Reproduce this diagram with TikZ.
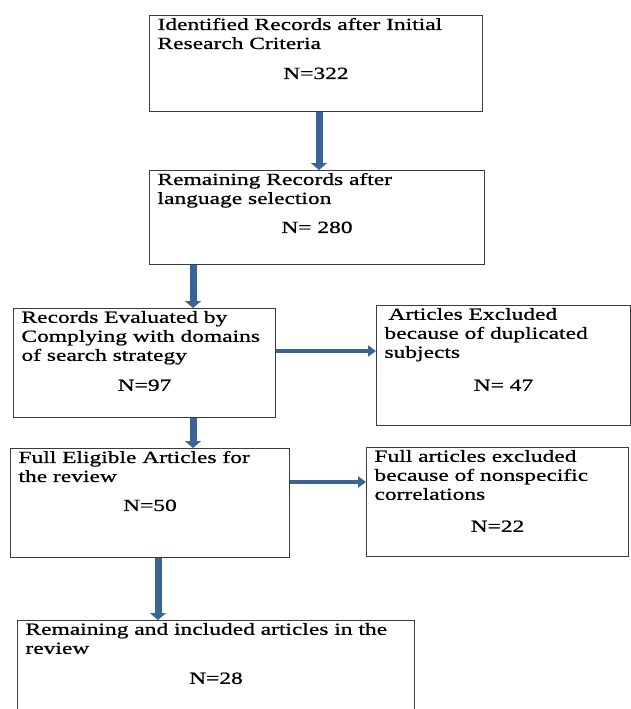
\documentclass[tikz,border=0pt]{standalone}
\usepackage{fontspec}
\setmainfont{Liberation Serif}[FakeStretch=1.38, FakeBold=0.9]
\usetikzlibrary{arrows.meta}
\definecolor{flowblue}{HTML}{3B6496}
\definecolor{frame}{HTML}{3C3C3C}
% width, height, gap before count, lines, count
\newcommand{\stagetext}[5]{%
	\parbox[t][\dimexpr#2-6pt\relax][t]{\dimexpr#1-16pt\relax}{\raggedright #4\par\vspace{#3}\centering #5\par}}

\begin{document}
\begin{tikzpicture}[
		x=1pt, y=-1pt,
		stage/.style={
			draw=frame, line width=1pt, anchor=north west,
			inner xsep=8pt, inner ysep=2.5pt,
			font=\fontsize{17pt}{19pt}\selectfont
		},
		vflow/.style={draw=flowblue, line width=7pt, -{Triangle[width=16pt,length=7pt]}},
		hflow/.style={draw=flowblue, line width=4pt, -{Triangle[width=11pt,length=8pt]}}
		]
		
		\useasboundingbox (0,0) rectangle (631,709);
		\clip (0,0) rectangle (631,709);
		
		% Main column of stages
		\node[stage] (ident) at (149,15)
		{\stagetext{333pt}{97pt}{11pt}{Identified Records after Initial\\Research Criteria}{N=322}};
		\node[stage] (rem) at (149,170)
		{\stagetext{335pt}{95pt}{10pt}{Remaining Records after\\language selection}{N= 280}};
		\node[stage] (eval) at (13,308)
		{\stagetext{262pt}{110pt}{11pt}{Records Evaluated by\\Complying with domains\\of search strategy}{N=97}};
		\node[stage] (elig) at (10,448)
		{\stagetext{279pt}{110pt}{10pt}{Full Eligible Articles for\\the review}{N=50}};
		\node[stage] (incl) at (17,620)
		{\stagetext{397pt}{96pt}{11pt}{Remaining and included articles in the\\review}{N=28}};
		
		% Excluded records on the right
		\node[stage] (dup) at (376,305)
		{\stagetext{254pt}{121pt}{14pt}{\hspace*{4pt}Articles Excluded\\because of duplicated\\subjects}{N= 47}};
		\node[stage] (nonsp) at (366,447)
		{\stagetext{262pt}{110pt}{13pt}{Full articles excluded\\because of nonspecific\\correlations}{N=22}};
		
		% --- Flow between stages ---
		\draw[vflow] ([xshift=170pt]ident.south west) -- ([xshift=170pt]ident.south west |- rem.north);
		\draw[vflow] ([xshift=44pt]rem.south west) -- ([xshift=44pt]rem.south west |- eval.north);
		\draw[vflow] ([xshift=180pt]eval.south west) -- ([xshift=180pt]eval.south west |- elig.north);
		\draw[vflow] ([xshift=148pt]elig.south west) -- ([xshift=148pt]elig.south west |- incl.north);
		
		% Exclusions
		\draw[hflow] ([yshift=-43pt]eval.north east) -- ([yshift=-43pt]eval.north east -| dup.west);
		\draw[hflow] ([yshift=-34pt]elig.north east) -- ([yshift=-34pt]elig.north east -| nonsp.west);
		
	\end{tikzpicture}
\end{document}
